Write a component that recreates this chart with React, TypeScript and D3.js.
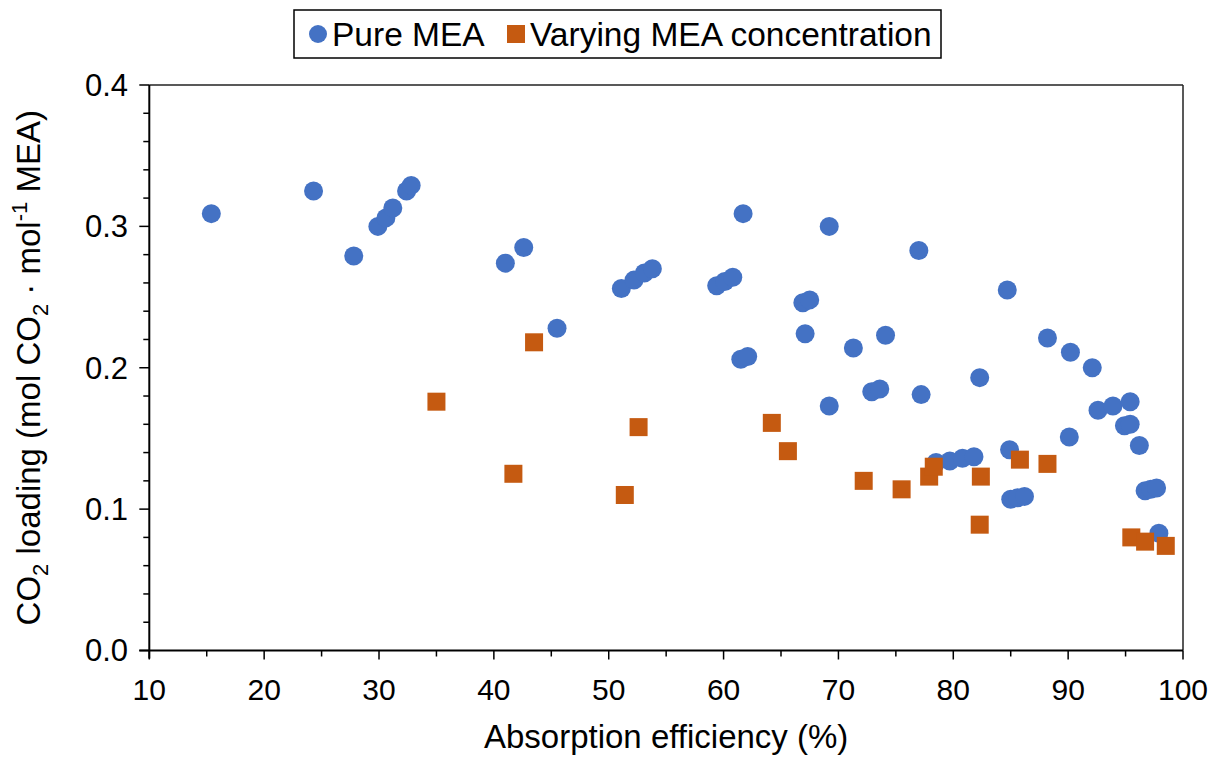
import React from "react";
import * as d3 from "d3";

const pureX = [15.4, 24.3, 27.8, 29.9, 30.6, 31.2, 32.4, 32.8, 41.0, 42.6, 45.5, 51.1, 52.2, 53.1, 53.8, 59.4, 60.1, 60.8, 61.5, 62.1, 61.7, 66.9, 67.5, 67.1, 69.2, 69.2, 71.3, 72.9, 73.6, 74.1, 77.0, 77.2, 78.5, 79.7, 80.8, 81.8, 82.3, 84.7, 84.9, 85.0, 85.6, 86.2, 88.2, 90.2, 90.1, 92.1, 92.6, 93.9, 95.4, 94.9, 95.4, 96.2, 96.7, 97.2, 97.7, 97.9];
const pureY = [0.309, 0.325, 0.279, 0.300, 0.306, 0.313, 0.325, 0.329, 0.274, 0.285, 0.228, 0.256, 0.262, 0.267, 0.270, 0.258, 0.261, 0.264, 0.206, 0.208, 0.309, 0.246, 0.248, 0.224, 0.300, 0.173, 0.214, 0.183, 0.185, 0.223, 0.283, 0.181, 0.133, 0.134, 0.136, 0.137, 0.193, 0.255, 0.142, 0.107, 0.108, 0.109, 0.221, 0.211, 0.151, 0.200, 0.170, 0.173, 0.176, 0.159, 0.160, 0.145, 0.113, 0.114, 0.115, 0.083];

const varX = [35.0, 41.7, 43.5, 51.4, 52.6, 64.2, 65.6, 72.2, 75.5, 77.9, 78.3, 82.4, 82.3, 85.8, 88.2, 95.5, 96.7, 98.5];
const varY = [0.176, 0.125, 0.218, 0.110, 0.158, 0.161, 0.141, 0.120, 0.114, 0.123, 0.130, 0.123, 0.089, 0.135, 0.132, 0.080, 0.077, 0.074];

const xMajorTicks = [10, 20, 30, 40, 50, 60, 70, 80, 90, 100];
const xMinorTicks = [15, 25, 35, 45, 55, 65, 75, 85, 95];
const yMajorTicks = [0, 0.1, 0.2, 0.3, 0.4];
const yMinorTicks = [0.02, 0.04, 0.06, 0.08, 0.12, 0.14, 0.16, 0.18, 0.22, 0.24, 0.26, 0.28, 0.32, 0.34, 0.36, 0.38];

const seriesNames = ["Pure MEA", "Varying MEA concentration"];
const BLUE = "#4472C4";
const ORANGE = "#C55A11";
const FONT = "'Liberation Sans', Arial, sans-serif";

export default function App() {
  const W = 1223, H = 762;
  const left = 149.3, right = 1183, top = 85, bottom = 650.5;
  const x = d3.scaleLinear().domain([10, 100]).range([left, right]);
  const y = d3.scaleLinear().domain([0, 0.4]).range([bottom, top]);
  const fmtY = d3.format(".1f");
  const r = 9.5;
  const s = 18;

  return (
    <svg width={W} height={H} style={{ position: "absolute", left: 0, top: 0 }} fontFamily={FONT}>
      <rect x={0} y={0} width={W} height={H} fill="#fff" />
      {/* plot border top/right */}
      <line x1={left} x2={right} y1={top} y2={top} stroke="#222" strokeWidth={1.5} />
      <line x1={right} x2={right} y1={top} y2={bottom} stroke="#222" strokeWidth={1.5} />
      {/* y axis */}
      <line x1={left} x2={left} y1={top} y2={bottom + 8} stroke="#000" strokeWidth={2} />
      {yMajorTicks.map((t) => (
        <g key={"ym" + t}>
          <line x1={left - 10} x2={left} y1={y(t)} y2={y(t)} stroke="#000" strokeWidth={1.5} />
          <text x={128} y={y(t)} dy="0.35em" textAnchor="end" fontSize={31} fill="#000">{fmtY(t)}</text>
        </g>
      ))}
      {yMinorTicks.map((t) => (
        <line key={"yn" + t} x1={left - 6} x2={left} y1={y(t)} y2={y(t)} stroke="#000" strokeWidth={1.5} />
      ))}
      {/* x axis */}
      <line x1={left - 10} x2={right} y1={bottom} y2={bottom} stroke="#000" strokeWidth={2} />
      {xMajorTicks.map((t) => (
        <g key={"xm" + t}>
          <line x1={x(t)} x2={x(t)} y1={bottom} y2={bottom + 9} stroke="#000" strokeWidth={1.5} />
          <text x={x(t)} y={700} textAnchor="middle" fontSize={30} fill="#000">{t}</text>
        </g>
      ))}
      {xMinorTicks.map((t) => (
        <line key={"xn" + t} x1={x(t)} x2={x(t)} y1={bottom} y2={bottom + 6} stroke="#000" strokeWidth={1.5} />
      ))}
      {/* axis titles */}
      <text x={(left + right) / 2} y={748} textAnchor="middle" fontSize={33} fill="#000">Absorption efficiency (%)</text>
      <text transform={`translate(40,${(top + bottom) / 2}) rotate(-90)`} textAnchor="middle" fontSize={33} fill="#000">
        <tspan>CO</tspan>
        <tspan fontSize={22} dy={8}>2</tspan>
        <tspan dy={-8}> loading (mol CO</tspan>
        <tspan fontSize={22} dy={8}>2</tspan>
        <tspan dy={-8}> · mol</tspan>
        <tspan fontSize={22} dy={-13}>-1</tspan>
        <tspan dy={13}> MEA)</tspan>
      </text>
      {/* points */}
      {pureX.map((v, i) => (
        <circle key={"p" + i} cx={x(v)} cy={y(pureY[i])} r={r} fill={BLUE} />
      ))}
      {varX.map((v, i) => (
        <rect key={"v" + i} x={x(v) - s / 2} y={y(varY[i]) - s / 2} width={s} height={s} fill={ORANGE} />
      ))}
      {/* legend */}
      <rect x={294} y={10} width={647} height={48} fill="#fff" stroke="#000" strokeWidth={1.5} />
      <circle cx={318} cy={34} r={9} fill={BLUE} />
      <text x={332} y={46} fontSize={33.5} fill="#000">{seriesNames[0]}</text>
      <rect x={507} y={25} width={18} height={18} fill={ORANGE} />
      <text x={530} y={46} fontSize={33.5} fill="#000">{seriesNames[1]}</text>
    </svg>
  );
}
